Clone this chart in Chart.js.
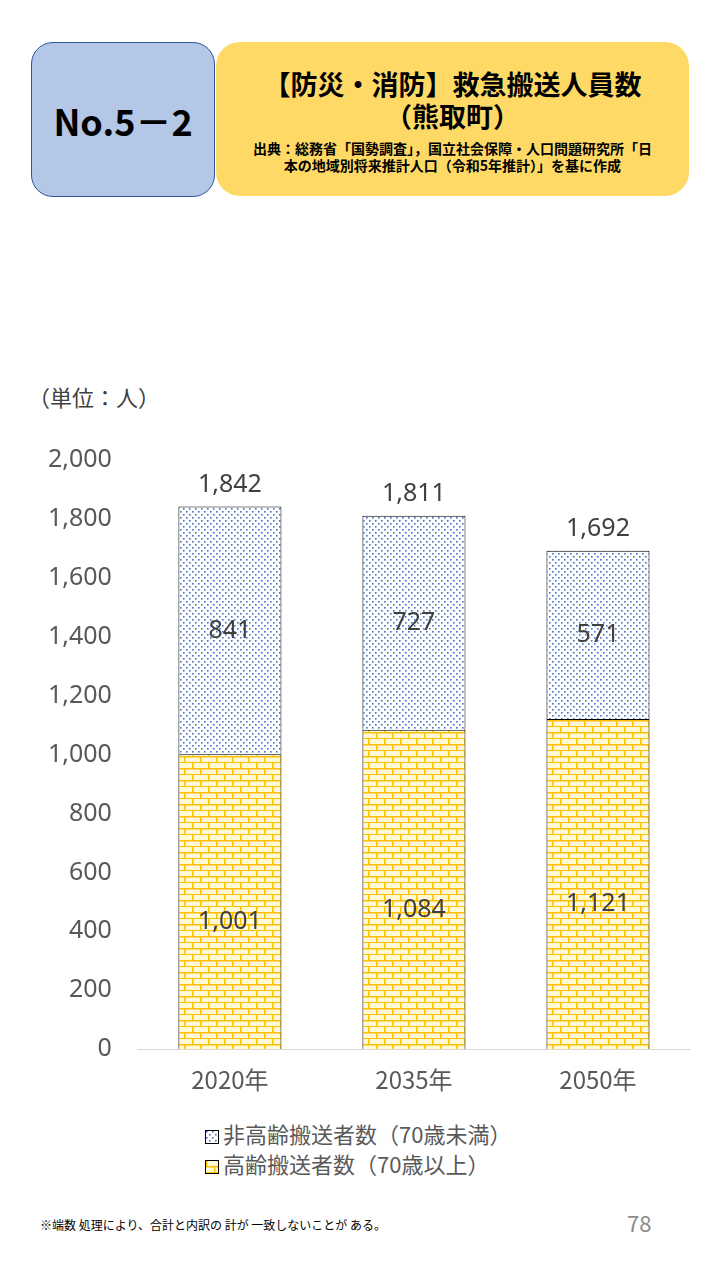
<!DOCTYPE html><html><head><meta charset="utf-8">
<script src="https://cdn.jsdelivr.net/npm/chart.js@4"></script>
<style>
body{margin:0;width:720px;height:1280px;background:#fff;font-family:"Noto Sans CJK JP","Noto Sans",sans-serif;position:relative;overflow:hidden}
.box{position:absolute;box-sizing:border-box}
#no{left:31px;top:42px;width:184px;height:155px;background:#b4c7e7;border:1px solid #2f55a0;border-radius:22px;display:flex;align-items:center;justify-content:center;font-size:36px;font-weight:bold;color:#000}
#tt{left:216px;top:42px;width:473px;height:154px;background:#ffd966;border-radius:24px;text-align:center;color:#000}
#tt .t{font-size:27px;font-weight:bold;line-height:32px;margin-top:26px}
#tt .s{font-size:14px;font-weight:bold;line-height:17px;margin-top:8px}
#unit{left:28px;top:380px;font-size:22px;color:#404040}
#cv{position:absolute;left:0;top:427px}
#lg{left:205px;top:1118px;font-size:22px;color:#595959;line-height:30px}
.sw{display:inline-block;width:12px;height:12px;border:1px solid #000;margin-right:4px;vertical-align:middle}
#note{left:40px;top:1216px;font-size:12px;color:#000}
#pg{left:627px;top:1206px;font-size:22px;color:#8c8c8c}
</style></head><body>
<div class="box" id="no">No.5－2</div>
<div class="box" id="tt"><div class="t">【防災・消防】救急搬送人員数<br>（熊取町）</div><div class="s">出典：総務省「国勢調査」，国立社会保障・人口問題研究所「日<br>本の地域別将来推計人口（令和5年推計）」を基に作成</div></div>
<div class="box" id="unit">（単位：人）</div>
<canvas id="cv" width="720" height="675"></canvas>
<div class="box" id="lg"><div><span class="sw" id="s1"></span>非高齢搬送者数（70歳未満）</div><div><span class="sw" id="s2"></span>高齢搬送者数（70歳以上）</div></div>
<div class="box" id="note">※端数 処理により、合計と内訳の 計が 一致しないことが ある。</div>
<div class="box" id="pg">78</div>
<script>
const categories=["2020年","2035年","2050年"];
const elderly=[1001,1084,1121];
const nonElderly=[841,727,571];
const totals=[1842,1811,1692];
const yTicks=[0,200,400,600,800,1000,1200,1400,1600,1800,2000];

function dotPat(){const c=document.createElement('canvas');c.width=6;c.height=6;const x=c.getContext('2d');x.fillStyle='#fff';x.fillRect(0,0,6,6);x.fillStyle='#4472c4';x.fillRect(0,0,1.6,1.6);x.fillRect(3,3,1.6,1.6);return c;}
function brickPat(){const c=document.createElement('canvas');c.width=16;c.height=12;const x=c.getContext('2d');x.fillStyle='#fff9d6';x.fillRect(0,0,16,12);x.fillStyle='#ffc000';x.fillRect(0,5,16,1.5);x.fillRect(0,11,16,1.5);x.fillRect(0,0,1.5,6);x.fillRect(8,6,1.5,6);return c;}
const ctx=document.getElementById('cv').getContext('2d');
const dp=ctx.createPattern(dotPat(),'repeat'),bp=ctx.createPattern(brickPat(),'repeat');
for(const [id,p] of [['s1',dotPat()],['s2',brickPat()]]){document.getElementById(id).style.background='url('+p.toDataURL()+')';}
const labels={id:'lbl',afterDatasetsDraw(ch){const c=ch.ctx;c.save();c.font='25px "Noto Sans","DejaVu Sans",sans-serif';c.fillStyle='#404040';c.textAlign='center';c.textBaseline='middle';
ch.data.datasets.forEach((ds,i)=>{ch.getDatasetMeta(i).data.forEach((b,j)=>{c.fillText(ds.data[j].toLocaleString('en-US'),b.x,(b.y+b.base)/2+(i==0?20:0));});});
const m=ch.getDatasetMeta(1);m.data.forEach((b,j)=>c.fillText(totals[j].toLocaleString('en-US'),b.x,b.y-22));c.restore();}};
new Chart(ctx,{type:'bar',data:{labels:categories,datasets:[
{label:'高齢搬送者数（70歳以上）',data:elderly,backgroundColor:bp,borderColor:'#000',borderWidth:1,barPercentage:0.56,categoryPercentage:1},
{label:'非高齢搬送者数（70歳未満）',data:nonElderly,backgroundColor:dp,borderColor:'#000',borderWidth:1,barPercentage:0.56,categoryPercentage:1}]},
options:{responsive:false,animation:false,layout:{padding:{left:30,right:30,top:22,bottom:0}},plugins:{legend:{display:false},tooltip:{enabled:false}},
scales:{x:{stacked:true,grid:{display:false},border:{color:'#d9d9d9'},ticks:{color:'#595959',font:{size:24,family:'"Noto Sans CJK JP"'},padding:8}},
y:{stacked:true,min:0,max:2000,afterBuildTicks:a=>{a.ticks=yTicks.map(v=>({value:v}))},grid:{display:false},border:{display:false},ticks:{color:'#595959',font:{size:25,family:'"Noto Sans","DejaVu Sans"'},padding:18,callback:v=>v.toLocaleString('en-US')}}}},plugins:[labels]});
</script></body></html>
